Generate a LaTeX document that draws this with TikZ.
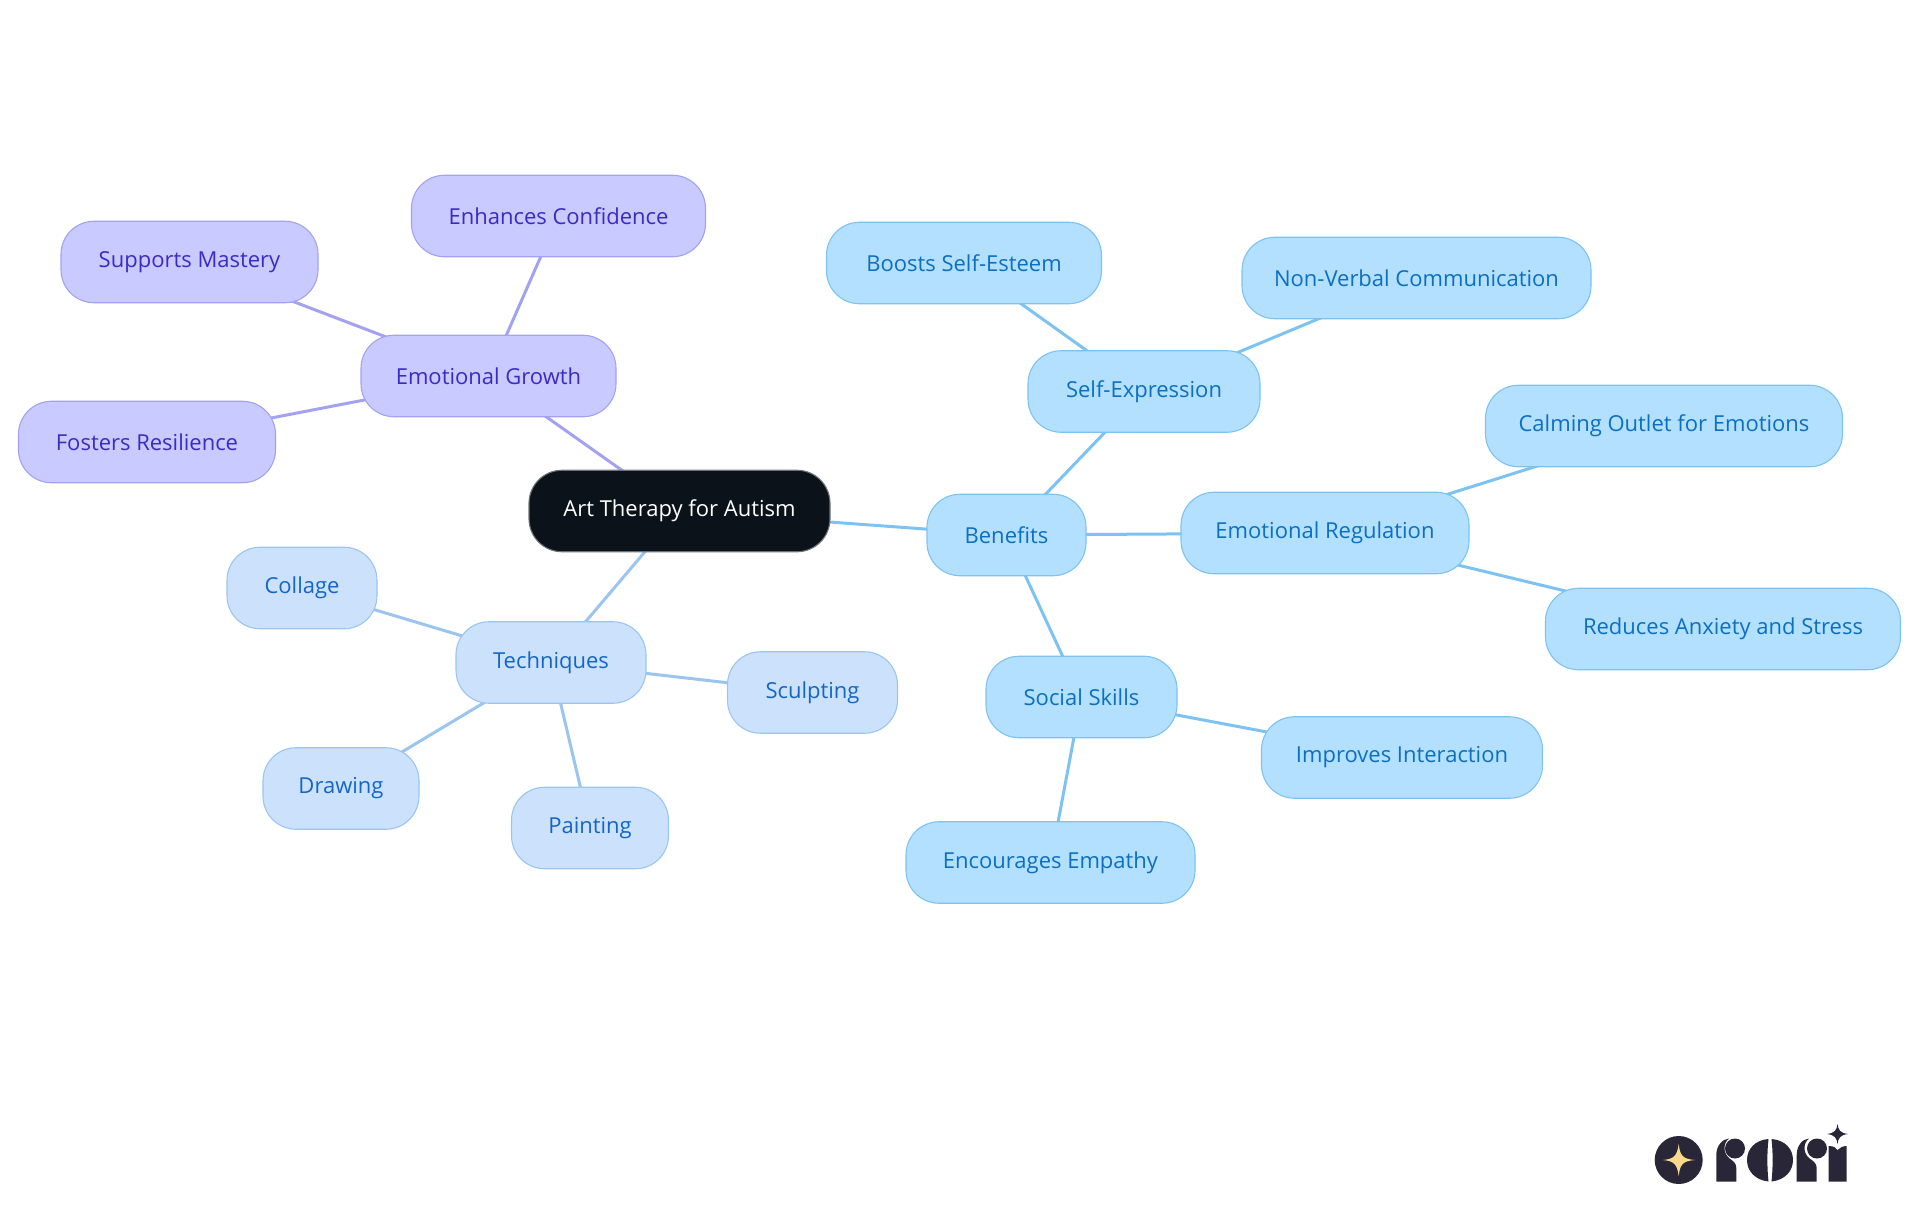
\documentclass[tikz,border=0pt]{standalone}
\usepackage{fontspec}
\setmainfont{Open Sans}
\usetikzlibrary{backgrounds}

\definecolor{rootfill}{HTML}{0B1219}
\definecolor{rootline}{HTML}{6E7378}
\definecolor{benefill}{HTML}{B3E0FF}
\definecolor{beneline}{HTML}{7CC3F3}
\definecolor{benetext}{HTML}{0B6FC2}
\definecolor{techfill}{HTML}{CCE2FC}
\definecolor{techline}{HTML}{9AC5F1}
\definecolor{techtext}{HTML}{1466C6}
\definecolor{growfill}{HTML}{C9CAFF}
\definecolor{growline}{HTML}{A3A2F2}
\definecolor{growtext}{HTML}{3B2BC4}
\definecolor{logodark}{HTML}{282637}
\definecolor{logostar}{HTML}{F9D98B}

\tikzset{
  topic/.style={rounded corners=33pt,line width=1.1pt,inner sep=0pt,minimum height=81.5pt,font=\fontsize{22}{26}\selectfont},
  rootnode/.style={topic,draw=rootline,fill=rootfill,text=white},
  benenode/.style={topic,draw=beneline,fill=benefill,text=benetext},
  technode/.style={topic,draw=techline,fill=techfill,text=techtext},
  grownode/.style={topic,draw=growline,fill=growfill,text=growtext},
  benelink/.style={draw=beneline,line width=3pt},
  techlink/.style={draw=techline,line width=3pt},
  growlink/.style={draw=growline,line width=3pt},
}

\begin{document}
\begin{tikzpicture}[x=1pt,y=-1pt]
  \useasboundingbox (0,0) rectangle (1920,1215);

  \node[rootnode,minimum width=301pt] (art) at (679.5,511) {Art Therapy for Autism};

  \node[benenode,minimum width=159pt] (benefits) at (1006.5,535) {Benefits};
  \node[benenode,minimum width=232pt] (selfexp) at (1144,391.5) {Self-Expression};
  \node[benenode,minimum width=288pt] (emoreg) at (1325,533) {Emotional Regulation};
  \node[benenode,minimum width=191pt] (social) at (1081.5,697) {Social Skills};
  \node[benenode,minimum width=275pt] (esteem) at (964,263) {Boosts Self-Esteem};
  \node[benenode,minimum width=349pt] (nonverbal) at (1416.5,278) {Non-Verbal Communication};
  \node[benenode,minimum width=357pt] (calming) at (1664,426) {Calming Outlet for Emotions};
  \node[benenode,minimum width=355pt] (anxiety) at (1723,629) {Reduces Anxiety and Stress};
  \node[benenode,minimum width=281pt] (interact) at (1402,757.5) {Improves Interaction};
  \node[benenode,minimum width=289pt] (empathy) at (1050.5,862.5) {Encourages Empathy};

  \node[technode,minimum width=190pt] (techniques) at (551,662.5) {Techniques};
  \node[technode,minimum width=150pt] (collage) at (302,588) {Collage};
  \node[technode,minimum width=170pt] (sculpt) at (812.5,692.5) {Sculpting};
  \node[technode,minimum width=156pt] (drawing) at (341,788.5) {Drawing};
  \node[technode,minimum width=157pt] (painting) at (590,828) {Painting};

  \node[grownode,minimum width=255pt] (growth) at (488.5,376) {Emotional Growth};
  \node[grownode,minimum width=294pt] (confid) at (558.5,216) {Enhances Confidence};
  \node[grownode,minimum width=257pt] (mastery) at (189.5,262) {Supports Mastery};
  \node[grownode,minimum width=257pt] (resil) at (147,442) {Fosters Resilience};

  \begin{pgfonlayer}{background}
    \foreach \a/\b in {art/benefits,benefits/selfexp,benefits/emoreg,benefits/social,selfexp/esteem,selfexp/nonverbal,emoreg/calming,emoreg/anxiety,social/interact,social/empathy}
      \draw[benelink] (\a.center) -- (\b.center);
    \foreach \a/\b in {art/techniques,techniques/collage,techniques/sculpt,techniques/drawing,techniques/painting}
      \draw[techlink] (\a.center) -- (\b.center);
    \foreach \a/\b in {art/growth,growth/confid,growth/mastery,growth/resil}
      \draw[growlink] (\a.center) -- (\b.center);
  \end{pgfonlayer}

  % logo
  \fill[logodark] (1678.7,1160) circle (24);
  \fill[logostar] (1678.7,1144) .. controls (1680,1156) and (1683,1159) .. (1695,1160) .. controls (1683,1161) and (1680,1164) .. (1678.7,1176) .. controls (1677,1164) and (1674,1161) .. (1662.7,1160) .. controls (1674,1159) and (1677,1156) .. (1678.7,1144) -- cycle;
  % first r
  \fill[logodark] (1716.3,1181.5) -- (1716.3,1155) .. controls (1716.3,1146) and (1722,1139) .. (1729,1138.5) .. controls (1723,1143) and (1723,1153) .. (1729,1158) .. controls (1733,1161) and (1736.3,1163) .. (1736.3,1168) -- (1736.3,1181.5) -- cycle;
  \fill[logodark] (1735,1148.5) circle (10);
  % o
  \fill[logodark] (1768.5,1139) .. controls (1755,1140) and (1747,1149) .. (1747,1160) .. controls (1747,1171) and (1755,1180) .. (1768.5,1181.5) .. controls (1767,1168) and (1767,1152) .. (1768.5,1139) -- cycle;
  \fill[logodark] (1771.5,1139) .. controls (1785,1140) and (1793,1149) .. (1793,1160) .. controls (1793,1171) and (1785,1180) .. (1771.5,1181.5) .. controls (1773,1168) and (1773,1152) .. (1771.5,1139) -- cycle;
  % second r
  \fill[logodark] (1796.7,1181.5) -- (1796.7,1155) .. controls (1796.7,1146) and (1802,1139) .. (1809,1138.5) .. controls (1803,1143) and (1803,1153) .. (1809,1158) .. controls (1813,1161) and (1816.7,1163) .. (1816.7,1168) -- (1816.7,1181.5) -- cycle;
  \fill[logodark] (1817,1148.5) circle (10);
  % i
  \fill[logodark] (1828.7,1181.5) -- (1828.7,1146) .. controls (1834,1146) and (1836,1148) .. (1837.5,1150) .. controls (1840,1148) and (1842,1146) .. (1846.7,1146) -- (1846.7,1181.5) -- cycle;
  \fill[logodark] (1837.5,1124) .. controls (1838.3,1130) and (1840,1133) .. (1848,1134) .. controls (1840,1135) and (1838.3,1138) .. (1837.5,1144) .. controls (1836.7,1138) and (1835,1135) .. (1827,1134) .. controls (1835,1133) and (1836.7,1130) .. (1837.5,1124) -- cycle;
\end{tikzpicture}
\end{document}
